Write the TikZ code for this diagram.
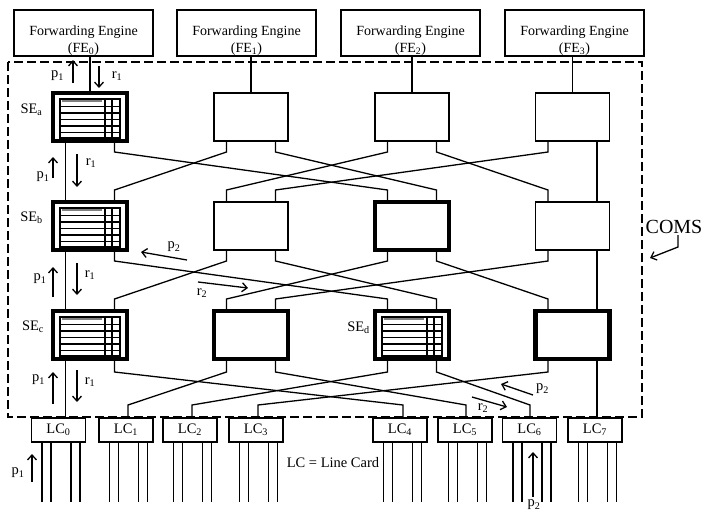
\documentclass[tikz,border=0pt]{standalone}
\usepackage{fontspec}
\setmainfont{Liberation Serif}
\usepackage{tikz}
\usetikzlibrary{calc, arrows.meta}
\definecolor{lineBlack}{HTML}{000000}
\definecolor{barGray}{HTML}{7F7F7F}

\tikzset{
  every node/.style={font=\fontsize{14.5}{17}\selectfont},
  feBox/.style={draw=lineBlack, line width=1.3pt, minimum width=139pt, minimum height=46pt,
                inner sep=0pt, outer sep=0pt, align=center, font=\fontsize{14}{17}\selectfont},
  seBox/.style={draw=lineBlack, fill=white, line width=1.3pt, minimum width=74pt,
                minimum height=48pt, inner sep=0pt, outer sep=0pt},
  lcBox/.style={draw=lineBlack, fill=white, line width=1.3pt, minimum width=54pt,
                minimum height=24pt, inner sep=0pt, outer sep=0pt},
  link/.style={draw=lineBlack, line width=1.3pt},
  flow/.style={draw=lineBlack, line width=1.3pt, -{Straight Barb[length=5pt, width=9pt]}},
  tag/.style={inner sep=0pt},
  pics/seTable/.style={code={
    \draw[line width=2pt] (-30,-18.5) rectangle (30,20.5);
    \foreach \yy in {-10.5,-4,2.5,9,15.5} \draw[line width=1.8pt] (-30,\yy) -- (30,\yy);
    \foreach \xx in {15,22} \draw[line width=1.4pt] (\xx,-18.5) -- (\xx,20.5);
    \draw[barGray, line width=1.2pt] (-28,-16) -- (12,-16);
  }}
}

\begin{document}
\begin{tikzpicture}[x=1pt, y=-1pt]
  \useasboundingbox (0,0) rectangle (706,514);

  % dashed border of the switching fabric
  \draw[lineBlack, line width=1.4pt, dash pattern=on 9pt off 4pt] (8,62) rectangle (642,417);

  % forwarding engines
  \foreach \i/\x in {0/83.5, 1/246.5, 2/410.5, 3/574.5}
    \node[feBox] (fe\i) at (\x,33) {\rule{0pt}{24pt}Forwarding Engine\\(FE\textsubscript{\i})};

  % switching elements, three stages of four
  \foreach \c/\x in {0/90, 1/251, 2/412, 3/572.5}
    \foreach \r/\y in {1/117, 2/226, 3/335}
      \node[seBox] (se\r\c) at (\x,\y) {};

  \foreach \n in {se10, se20, se30, se22, se31, se32, se33}
    \draw[lineBlack, line width=4.5pt] (\n.north west) rectangle (\n.south east);
  \foreach \n in {se10, se20, se30, se32}
    \pic at (\n) {seTable};

  % ports of the switching elements
  \foreach \r in {1,2,3}
    \foreach \c in {0,...,3} {
      \coordinate (se\r\c-tL) at ($(se\r\c.north)+(-24.5,0)$);
      \coordinate (se\r\c-tR) at ($(se\r\c.north)+(24.5,0)$);
      \coordinate (se\r\c-bL) at ($(se\r\c.south)+(-24.5,0)$);
      \coordinate (se\r\c-bR) at ($(se\r\c.south)+(24.5,0)$);
    }

  % line cards
  \foreach \j/\x/\dx in {0/58.5/7, 1/126/2, 2/190/2, 3/256/2, 4/400/3, 5/465/1, 6/529.5/0.5, 7/595/2} {
    \node[lcBox] (lc\j) at (\x,430) {LC\textsubscript{\j}};
    \coordinate (lc\j-t) at ($(lc\j.north)+(\dx,0)$);
    \foreach \d in {-16.5,-7.5,12.5,21.5}
      \draw[link] ($(lc\j.south)+(\d,0)$) -- ++(0,60);
  }

  % engines to first stage
  \foreach \c in {0,...,3}
    \draw[link] (fe\c.south -| se1\c.north) -- (se1\c.north);

  % shuffle between stages
  \foreach \r/\n in {1/2, 2/3}
    \foreach \a/\p/\b/\q in {0/L/0/L, 0/R/2/L, 1/L/0/R, 1/R/2/R, 2/L/1/L, 2/R/3/L, 3/L/1/R, 3/R/3/R}
      \draw[link] (se\r\a-b\p) -- ++(0,11) -- ($(se\n\b-t\q)+(0,-12)$) -- (se\n\b-t\q);

  % last stage to line cards
  \foreach \a/\p/\j in {0/L/0, 0/R/4, 1/L/1, 1/R/5, 2/L/2, 2/R/6, 3/L/3, 3/R/7}
    \draw[link] (se3\a-b\p) -- ++(0,13) -- ($(lc\j-t)+(0,-13)$) -- (lc\j-t);

  % element names
  \node[tag] (seaName) at (31.5,110) {SE\textsubscript{a}};
  \node[tag] (sebName) at (31.5,218) {SE\textsubscript{b}};
  \node[tag] (secName) at (33,327) {SE\textsubscript{c}};
  \node[tag] (sedName) at (358.5,328) {SE\textsubscript{d}};

  % packet and reply flows
  \foreach \x/\ya/\yb in {73/83/60, 53/178/157, 53/297/267, 53/404/372, 32/482/454, 533/497/452}
    \draw[flow] (\x,\ya) -- (\x,\yb);
  \foreach \x/\ya/\yb in {99/66/88, 77/154/187, 77/263/295, 77/370/402}
    \draw[flow] (\x,\ya) -- (\x,\yb);
  \draw[flow] (187,260) -- (141,252);
  \draw[flow] (198,282) -- (248,288);
  \draw[flow] (533,395) -- (501,384);
  \draw[flow] (472,397) -- (507,407);

  \node[tag] (pOneA) at (57.5,76) {p\textsubscript{1}};
  \node[tag] (pOneB) at (43,177) {p\textsubscript{1}};
  \node[tag] (pOneC) at (40,279) {p\textsubscript{1}};
  \node[tag] (pOneD) at (38.5,380) {p\textsubscript{1}};
  \node[tag] (pOneE) at (18,473) {p\textsubscript{1}};
  \node[tag] (rOneA) at (117,76) {r\textsubscript{1}};
  \node[tag] (rOneB) at (91,163) {r\textsubscript{1}};
  \node[tag] (rOneC) at (90,275) {r\textsubscript{1}};
  \node[tag] (rOneD) at (90,382) {r\textsubscript{1}};
  \node[tag] (pTwoA) at (174,247) {p\textsubscript{2}};
  \node[tag] (pTwoB) at (542.5,389) {p\textsubscript{2}};
  \node[tag] (pTwoC) at (534,505) {p\textsubscript{2}};
  \node[tag] (rTwoA) at (202,293) {r\textsubscript{2}};
  \node[tag] (rTwoB) at (483,408) {r\textsubscript{2}};

  \node[tag] (legend) at (333,463) {LC = Line Card};

  % fabric name
  \node[tag, font=\fontsize{20}{22}\selectfont] (coms) at (674,227) {COMS};
  \coordinate (comsTip) at (650,258);
  \draw[flow] (678,235) -- (678,247) -- (comsTip);
\end{tikzpicture}
\end{document}
